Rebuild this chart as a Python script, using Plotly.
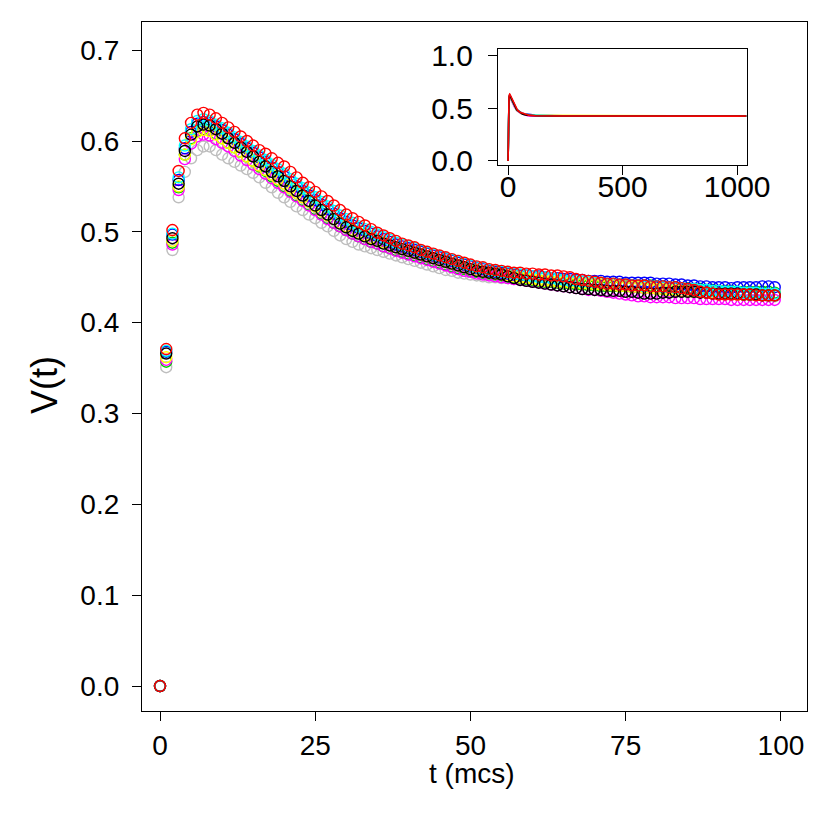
import plotly.graph_objects as go

# time axis (mcs) for the main panel
T = list(range(100))

# V(t) per run (t = 0..99)
v_gray = [0.000, 0.351, 0.480, 0.538, 0.566, 0.581, 0.590, 0.594, 0.594, 0.590,
          0.585, 0.581, 0.577, 0.573, 0.569, 0.565, 0.560, 0.554, 0.549, 0.543,
          0.538, 0.533, 0.528, 0.524, 0.519, 0.515, 0.510, 0.506, 0.501, 0.496,
          0.492, 0.489, 0.486, 0.484, 0.482, 0.480, 0.478, 0.476, 0.474, 0.472,
          0.470, 0.468, 0.466, 0.464, 0.462, 0.460, 0.458, 0.457, 0.455, 0.454,
          0.453, 0.452, 0.451, 0.450, 0.450, 0.449, 0.449, 0.448, 0.448, 0.447,
          0.447, 0.446, 0.446, 0.446, 0.445, 0.445, 0.444, 0.444, 0.443, 0.443,
          0.442, 0.442, 0.441, 0.441, 0.440, 0.440, 0.439, 0.439, 0.438, 0.438,
          0.437, 0.437, 0.436, 0.436, 0.435, 0.435, 0.434, 0.434, 0.433, 0.433,
          0.432, 0.432, 0.431, 0.431, 0.431, 0.430, 0.430, 0.430, 0.429, 0.429]

v_green = [0.000, 0.357, 0.488, 0.549, 0.585, 0.603, 0.611, 0.613, 0.612, 0.608,
           0.603, 0.598, 0.593, 0.588, 0.583, 0.578, 0.572, 0.567, 0.561, 0.556,
           0.550, 0.545, 0.540, 0.535, 0.530, 0.525, 0.520, 0.515, 0.510, 0.506,
           0.502, 0.498, 0.495, 0.492, 0.489, 0.487, 0.484, 0.482, 0.480, 0.478,
           0.476, 0.474, 0.472, 0.470, 0.468, 0.466, 0.464, 0.462, 0.460, 0.459,
           0.457, 0.456, 0.455, 0.454, 0.453, 0.452, 0.451, 0.450, 0.449, 0.448,
           0.447, 0.446, 0.445, 0.445, 0.444, 0.443, 0.443, 0.442, 0.442, 0.441,
           0.441, 0.440, 0.440, 0.440, 0.440, 0.440, 0.441, 0.441, 0.441, 0.441,
           0.440, 0.440, 0.439, 0.439, 0.438, 0.438, 0.437, 0.437, 0.436, 0.436,
           0.435, 0.435, 0.435, 0.434, 0.434, 0.434, 0.434, 0.434, 0.434, 0.433]

v_magenta = [0.000, 0.359, 0.486, 0.546, 0.580, 0.597, 0.605, 0.607, 0.606, 0.602,
             0.598, 0.594, 0.589, 0.584, 0.579, 0.574, 0.569, 0.564, 0.559, 0.554,
             0.549, 0.544, 0.539, 0.534, 0.529, 0.524, 0.519, 0.514, 0.510, 0.506,
             0.502, 0.498, 0.495, 0.492, 0.489, 0.487, 0.484, 0.482, 0.479, 0.477,
             0.475, 0.473, 0.471, 0.469, 0.467, 0.465, 0.463, 0.461, 0.459, 0.457,
             0.456, 0.454, 0.453, 0.452, 0.451, 0.450, 0.449, 0.448, 0.447, 0.446,
             0.445, 0.444, 0.443, 0.442, 0.441, 0.440, 0.439, 0.438, 0.437, 0.436,
             0.436, 0.435, 0.434, 0.433, 0.432, 0.431, 0.430, 0.429, 0.429, 0.428,
             0.428, 0.428, 0.428, 0.427, 0.427, 0.427, 0.427, 0.426, 0.426, 0.426,
             0.426, 0.426, 0.425, 0.425, 0.425, 0.425, 0.425, 0.425, 0.425, 0.425]

v_blue = [0.000, 0.368, 0.497, 0.557, 0.592, 0.610, 0.619, 0.621, 0.620, 0.616,
          0.612, 0.607, 0.602, 0.597, 0.592, 0.587, 0.582, 0.577, 0.571, 0.566,
          0.561, 0.555, 0.550, 0.545, 0.540, 0.535, 0.530, 0.525, 0.520, 0.515,
          0.511, 0.507, 0.504, 0.501, 0.498, 0.495, 0.492, 0.489, 0.486, 0.484,
          0.482, 0.480, 0.478, 0.476, 0.474, 0.472, 0.470, 0.468, 0.466, 0.464,
          0.462, 0.460, 0.459, 0.457, 0.456, 0.455, 0.454, 0.453, 0.452, 0.452,
          0.451, 0.451, 0.450, 0.449, 0.449, 0.448, 0.448, 0.447, 0.447, 0.446,
          0.446, 0.446, 0.445, 0.445, 0.445, 0.444, 0.444, 0.444, 0.444, 0.444,
          0.443, 0.443, 0.443, 0.442, 0.442, 0.441, 0.441, 0.440, 0.440, 0.439,
          0.439, 0.439, 0.438, 0.439, 0.439, 0.439, 0.439, 0.440, 0.440, 0.439]

v_yellow = [0.000, 0.362, 0.490, 0.550, 0.585, 0.602, 0.610, 0.612, 0.611, 0.607,
            0.603, 0.598, 0.593, 0.588, 0.583, 0.578, 0.573, 0.568, 0.563, 0.558,
            0.553, 0.548, 0.543, 0.538, 0.533, 0.528, 0.523, 0.518, 0.514, 0.510,
            0.506, 0.502, 0.499, 0.496, 0.493, 0.490, 0.488, 0.485, 0.483, 0.481,
            0.479, 0.477, 0.475, 0.473, 0.471, 0.469, 0.467, 0.465, 0.463, 0.461,
            0.459, 0.458, 0.456, 0.455, 0.454, 0.453, 0.452, 0.451, 0.450, 0.449,
            0.448, 0.447, 0.446, 0.446, 0.445, 0.445, 0.444, 0.444, 0.443, 0.443,
            0.442, 0.442, 0.441, 0.441, 0.440, 0.440, 0.439, 0.439, 0.438, 0.438,
            0.437, 0.437, 0.436, 0.436, 0.435, 0.435, 0.434, 0.434, 0.433, 0.433,
            0.432, 0.432, 0.432, 0.431, 0.431, 0.431, 0.431, 0.430, 0.430, 0.430]

v_cyan = [0.000, 0.369, 0.498, 0.560, 0.595, 0.613, 0.622, 0.624, 0.622, 0.618,
          0.614, 0.609, 0.604, 0.599, 0.594, 0.589, 0.584, 0.579, 0.574, 0.569,
          0.564, 0.558, 0.553, 0.548, 0.543, 0.538, 0.533, 0.528, 0.523, 0.518,
          0.514, 0.510, 0.506, 0.503, 0.500, 0.497, 0.494, 0.491, 0.488, 0.486,
          0.484, 0.482, 0.479, 0.477, 0.475, 0.473, 0.471, 0.469, 0.467, 0.465,
          0.463, 0.461, 0.460, 0.458, 0.457, 0.456, 0.455, 0.454, 0.453, 0.452,
          0.451, 0.450, 0.450, 0.449, 0.448, 0.447, 0.446, 0.446, 0.445, 0.445,
          0.444, 0.444, 0.443, 0.443, 0.442, 0.442, 0.441, 0.441, 0.440, 0.440,
          0.440, 0.439, 0.439, 0.438, 0.438, 0.437, 0.437, 0.436, 0.436, 0.435,
          0.435, 0.434, 0.434, 0.434, 0.433, 0.433, 0.433, 0.432, 0.432, 0.432]

v_black = [0.000, 0.366, 0.493, 0.553, 0.589, 0.607, 0.616, 0.618, 0.617, 0.613,
           0.608, 0.603, 0.598, 0.593, 0.588, 0.583, 0.577, 0.572, 0.566, 0.561,
           0.556, 0.550, 0.545, 0.540, 0.534, 0.529, 0.524, 0.519, 0.514, 0.509,
           0.505, 0.501, 0.498, 0.495, 0.492, 0.490, 0.487, 0.485, 0.483, 0.481,
           0.479, 0.477, 0.475, 0.473, 0.471, 0.469, 0.467, 0.465, 0.463, 0.461,
           0.459, 0.457, 0.456, 0.455, 0.454, 0.453, 0.451, 0.449, 0.447, 0.446,
           0.445, 0.444, 0.443, 0.442, 0.441, 0.440, 0.439, 0.438, 0.437, 0.437,
           0.436, 0.436, 0.435, 0.435, 0.435, 0.434, 0.434, 0.433, 0.432, 0.432,
           0.432, 0.433, 0.433, 0.434, 0.434, 0.434, 0.434, 0.433, 0.433, 0.432,
           0.432, 0.432, 0.432, 0.432, 0.431, 0.431, 0.431, 0.430, 0.430, 0.430]

v_red = [0.000, 0.371, 0.502, 0.567, 0.603, 0.620, 0.629, 0.631, 0.629, 0.625,
         0.620, 0.615, 0.610, 0.605, 0.600, 0.595, 0.590, 0.586, 0.581, 0.576,
         0.572, 0.566, 0.560, 0.554, 0.549, 0.544, 0.539, 0.534, 0.529, 0.524,
         0.519, 0.515, 0.511, 0.507, 0.503, 0.499, 0.496, 0.493, 0.490, 0.487,
         0.485, 0.483, 0.480, 0.478, 0.476, 0.474, 0.472, 0.470, 0.468, 0.466,
         0.464, 0.462, 0.461, 0.459, 0.458, 0.457, 0.456, 0.455, 0.455, 0.454,
         0.454, 0.453, 0.453, 0.452, 0.452, 0.451, 0.450, 0.448, 0.447, 0.446,
         0.445, 0.444, 0.443, 0.443, 0.442, 0.442, 0.441, 0.441, 0.441, 0.440,
         0.440, 0.440, 0.439, 0.439, 0.438, 0.437, 0.436, 0.434, 0.433, 0.432,
         0.431, 0.431, 0.431, 0.431, 0.431, 0.431, 0.430, 0.430, 0.430, 0.430]

# long-run tail for the inset (t beyond 100 mcs)
T_LONG = [120, 200, 300, 400, 500, 600, 700, 800, 900, 1000, 1040]
tail_gray = [0.428, 0.425, 0.424, 0.425, 0.424, 0.425, 0.424, 0.424, 0.425, 0.424, 0.424]
tail_green = [0.429, 0.425, 0.425, 0.424, 0.425, 0.424, 0.425, 0.425, 0.424, 0.425, 0.425]
tail_magenta = [0.424, 0.424, 0.425, 0.424, 0.423, 0.424, 0.425, 0.424, 0.424, 0.424, 0.424]
tail_blue = [0.432, 0.426, 0.425, 0.425, 0.424, 0.425, 0.425, 0.424, 0.425, 0.425, 0.425]
tail_yellow = [0.427, 0.425, 0.424, 0.425, 0.425, 0.424, 0.424, 0.425, 0.424, 0.424, 0.425]
tail_cyan = [0.428, 0.426, 0.425, 0.425, 0.424, 0.425, 0.424, 0.425, 0.425, 0.424, 0.425]
tail_black = [0.427, 0.425, 0.424, 0.424, 0.425, 0.424, 0.425, 0.424, 0.424, 0.425, 0.424]
tail_red = [0.427, 0.425, 0.424, 0.425, 0.424, 0.424, 0.425, 0.424, 0.424, 0.423, 0.424]

# draw order: last one ends on top (red)
series = [('gray', '#BEBEBE', v_gray, tail_gray),
          ('green', '#00CD00', v_green, tail_green),
          ('magenta', '#FF00FF', v_magenta, tail_magenta),
          ('blue', '#0000FF', v_blue, tail_blue),
          ('yellow', '#FFFF00', v_yellow, tail_yellow),
          ('cyan', '#00FFFF', v_cyan, tail_cyan),
          ('black', '#000000', v_black, tail_black),
          ('red', '#FF0000', v_red, tail_red)]

W = H = 830
OFF = 8  # page body margin shifts the whole figure by 8px
FONT = 'Liberation Sans, Arial, sans-serif'

fig = go.Figure()
for name, col, vals, tail in series:
    fig.add_trace(go.Scatter(x=T, y=vals, mode='markers', name=name,
                             marker=dict(symbol='circle-open', size=11, color=col,
                                         line=dict(width=1.4, color=col)),
                             xaxis='x', yaxis='y', showlegend=False))
for name, col, vals, tail in series:
    fig.add_trace(go.Scatter(x=T + T_LONG, y=vals + tail, mode='lines', name=name,
                             line=dict(color=col, width=1.6),
                             xaxis='x2', yaxis='y2', showlegend=False))

# screen pixels -> paper fractions
px = lambda a: (a - OFF) / W
py = lambda a: 1 - (a - OFF) / H
main_x = [px(142), px(807)]
main_y = [py(711), py(22)]
ins_x = [px(498), px(747)]
ins_y = [py(165), py(49)]

ax_common = dict(showgrid=False, zeroline=False, showline=True, mirror=True,
                 linecolor='black', linewidth=1.3, ticks='outside',
                 tickcolor='black', tickwidth=1.3, automargin=False)
main_font = dict(family=FONT, size=28, color='black')
ins_font = dict(family=FONT, size=30, color='black')

fig.update_layout(
    width=W, height=H, template='plotly_white',
    paper_bgcolor='white', plot_bgcolor='white',
    margin=dict(l=0, r=0, t=0, b=0, autoexpand=False),
    xaxis=dict(ax_common, domain=main_x, range=[-2.9, 104.2], tickfont=main_font,
               tickvals=[0, 25, 50, 75, 100], ticklen=9, ticklabelstandoff=0),
    yaxis=dict(ax_common, domain=main_y, range=[-0.0275, 0.731], tickfont=main_font,
               tickvals=[0, 0.1, 0.2, 0.3, 0.4, 0.5, 0.6, 0.7],
               tickformat='.1f', ticklen=9, ticklabelstandoff=7),
    xaxis2=dict(ax_common, domain=ins_x, range=[-44, 1043], anchor='y2',
                tickfont=ins_font, tickvals=[0, 500, 1000], ticklen=9,
                ticklabelstandoff=-14),
    yaxis2=dict(ax_common, domain=ins_y, range=[-0.038, 1.057], anchor='x2',
                tickfont=ins_font, tickvals=[0, 0.5, 1.0], tickformat='.1f',
                ticklen=9, ticklabelstandoff=9),
    annotations=[
        dict(text='V(t)', x=px(45), y=py(385), xref='paper', yref='paper',
             xanchor='center', yanchor='middle', showarrow=False, textangle=-90,
             font=dict(family=FONT, size=36, color='black')),
        dict(text='t (mcs)', x=px(472), y=py(773), xref='paper', yref='paper',
             xanchor='center', yanchor='middle', showarrow=False,
             font=dict(family=FONT, size=28, color='black')),
    ],
)

fig.write_html('out.html')
